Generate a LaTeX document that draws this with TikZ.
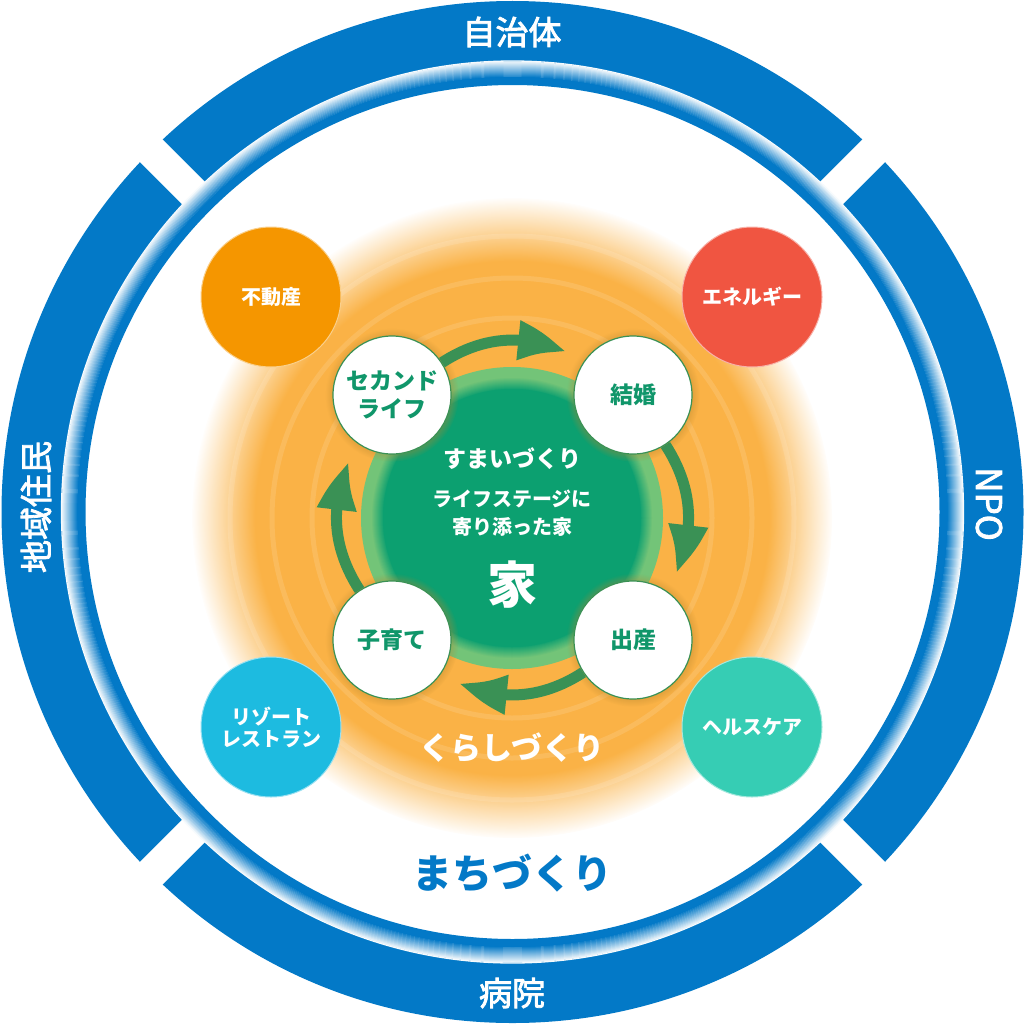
\documentclass[tikz,border=0pt]{standalone}
\usepackage{fontspec}
\setmainfont{Noto Sans CJK JP}
\newfontfamily\midfont{Noto Sans CJK JP}[FakeBold=2.5]
\usepackage{tikz}
\usetikzlibrary{arrows.meta, bending, shadows, fadings, calc, positioning}
\definecolor{ringBlue}{HTML}{0379C7}
\definecolor{glowOrange}{HTML}{FAB246}
\definecolor{homeGreen}{HTML}{0CA070}
\definecolor{rimGreen}{HTML}{73C478}
\definecolor{cycleGreen}{HTML}{3A9155}
\definecolor{textGreen}{HTML}{10966A}
\definecolor{haloBrown}{HTML}{B8862E}
\definecolor{estateOrange}{HTML}{F59600}
\definecolor{energyRed}{HTML}{F05541}
\definecolor{resortCyan}{HTML}{1DBBE0}
\definecolor{healthTeal}{HTML}{36CDB4}
\tikzset{
    stageNode/.style={circle, draw=cycleGreen, line width=1.2pt, fill=white, minimum size=118pt, inner sep=0pt, align=center, text=textGreen, font=\fontsize{23}{28}\selectfont\bfseries, circular glow={fill=haloBrown, opacity=0.45, shadow scale=1.13}},
    fieldNode/.style={circle, fill=#1, draw=#1!45!white, line width=1pt, minimum size=140pt, inner sep=0pt, align=center, text=white, font=\fontsize{20}{22}\selectfont\bfseries},
    bandLabel/.style={text=white, inner sep=0pt, font=\fontsize{33}{33}\selectfont\midfont},
    homeLabel/.style={text=white, inner sep=0pt, align=center},
    cycleArrow/.style={draw=cycleGreen, line width=11pt, -{Triangle[length=54pt, width=36pt, bend]}, shorten >=20pt},
}
\newcommand{\drawCycle}[2]{
    \draw[cycleArrow] (#1) to[bend left=33] (#2);
}
\begin{document}
\begin{tikzpicture}[x=1pt, y=1pt]
    \useasboundingbox (0,0) rectangle (1025,-1025);
    \coordinate (O) at (512.5,-512);
    \coordinate (C) at (512,-518);

    % 1. outer band with four gaps
    \fill[ringBlue, even odd rule] (O) circle (511) (O) circle (450);
    \foreach \a in {45,135,225,315} {
        \begin{scope}[shift={(O)}, rotate=\a]
            \fill[white] (-16,445) rectangle (16,520);
        \end{scope}
    }

    % 2. thin ring, soft on the outside
    \draw[ringBlue, line width=8pt] (O) circle (431);
    \foreach \i [evaluate=\i as \p using int(100-6*\i)] in {0,...,16} {
        \draw[ringBlue!\p!white, line width=1.3pt] (O) circle (435+\i);
    }

    % 3. orange glow
    \fill[glowOrange, path fading=circle with fuzzy edge 20 percent] (C) circle (320);
    \foreach \r in {200,240,282} {
        \draw[white, opacity=0.12, line width=5pt] (C) circle (\r);
    }

    % 4. home
    \fill[rimGreen] (C) circle (151);
    \foreach \k [evaluate=\k as \p using int(8*\k)] in {0,...,12} {
        \fill[homeGreen!\p!rimGreen] (C) circle (141-\k);
    }
    \fill[homeGreen] (C) circle (129);
    \node[homeLabel, font=\fontsize{23}{23}\selectfont\bfseries] (sumai) at (512,-459) {すまいづくり};
    \node[homeLabel, font=\fontsize{20}{28}\selectfont\bfseries] (stage) at (512,-513) {ライフステージに\\寄り添った家};
    \node[homeLabel, font=\fontsize{50}{50}\selectfont\bfseries] (ie) at (512,-585) {家};

    % 5. life stages
    \node[stageNode] (second) at (392,-395) {セカンド\\ライフ};
    \node[stageNode] (marriage) at (633,-395) {結婚};
    \node[stageNode] (birth) at (633,-640) {出産};
    \node[stageNode] (child) at (392,-640) {子育て};
    \drawCycle{second}{marriage}
    \drawCycle{marriage}{birth}
    \drawCycle{birth}{child}
    \drawCycle{child}{second}

    % 6. fields
    \node[fieldNode=estateOrange] (estate) at (271,-297) {不動産};
    \node[fieldNode=energyRed] (energy) at (752,-297) {エネルギー};
    \node[fieldNode=resortCyan] (resort) at (271,-727) {リゾート\\レストラン};
    \node[fieldNode=healthTeal] (health) at (752,-727) {ヘルスケア};

    % 7. titles
    \node[text=white, font=\fontsize{31}{31}\selectfont\bfseries] (kurashi) at (512,-748) {くらしづくり};
    \node[text=ringBlue, font=\fontsize{40}{40}\selectfont\bfseries] (machi) at (512,-873) {まちづくり};

    % 8. band labels
    \node[bandLabel] (city) at (512,-32) {自治体};
    \node[bandLabel] (hospital) at (512,-993) {病院};
    \node[bandLabel, font=\fontsize{35}{35}\selectfont\midfont, rotate=-90] (npo) at (989,-504) {NPO};
    \node[bandLabel, rotate=90] (resident) at (36,-507) {地域住民};

\end{tikzpicture}
\end{document}
